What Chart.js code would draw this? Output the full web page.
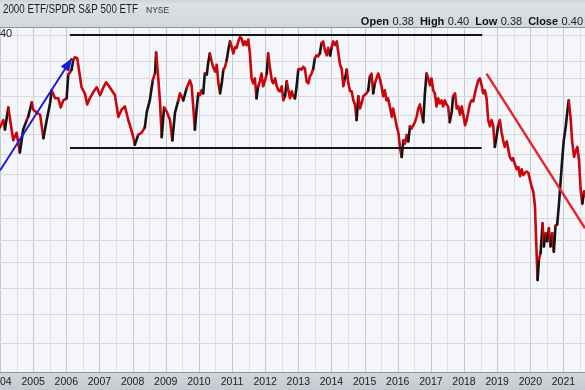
<!DOCTYPE html>
<html lang="en">
<head>
<meta charset="UTF-8" />
<title>Russell 2000 ETF / SPDR S&P 500 ETF</title>
<script src="https://cdn.jsdelivr.net/npm/chart.js"></script>
<style>
  html, body { margin: 0; padding: 0; background: #d5d8dd; overflow: hidden; }
  #wrap { width: 585px; height: 390px; }
</style>
</head>
<body>
<div id="wrap"><canvas id="ratioChart" width="585" height="390"></canvas></div>
<script>
  // x tick labels (one per calendar year)
  const years = [2004, 2005, 2006, 2007, 2008, 2009, 2010, 2011, 2012, 2013,
    2014, 2015, 2016, 2017, 2018, 2019, 2020, 2021, 2022];

  // ratio line, date in decimal years
  const dates = [
    2004.00, 2004.10, 2004.15, 2004.25, 2004.35, 2004.40, 2004.50, 2004.60, 2004.70, 2004.81,
    2004.85, 2004.96, 2005.00, 2005.11, 2005.21, 2005.31, 2005.41, 2005.51, 2005.56, 2005.66,
    2005.76, 2005.83, 2005.91, 2006.01, 2006.06, 2006.11, 2006.16, 2006.21, 2006.26, 2006.33,
    2006.39, 2006.46, 2006.56, 2006.63, 2006.71, 2006.81, 2006.92, 2007.02, 2007.12, 2007.20,
    2007.27, 2007.37, 2007.47, 2007.57, 2007.67, 2007.77, 2007.87, 2007.94, 2008.02, 2008.07,
    2008.17, 2008.27, 2008.37, 2008.43, 2008.52, 2008.61, 2008.68, 2008.71, 2008.78, 2008.83,
    2008.88, 2008.95, 2009.03, 2009.13, 2009.20, 2009.28, 2009.38, 2009.43, 2009.53, 2009.63,
    2009.73, 2009.78, 2009.83, 2009.88, 2009.93, 2009.98, 2010.03, 2010.08, 2010.13, 2010.18,
    2010.24, 2010.28, 2010.33, 2010.39, 2010.43, 2010.49, 2010.54, 2010.59, 2010.64, 2010.69,
    2010.74, 2010.79, 2010.84, 2010.89, 2010.94, 2010.99, 2011.04, 2011.09, 2011.14, 2011.19,
    2011.24, 2011.29, 2011.34, 2011.39, 2011.44, 2011.49, 2011.54, 2011.59, 2011.64, 2011.69,
    2011.74, 2011.79, 2011.84, 2011.89, 2011.94, 2011.99, 2012.05, 2012.09, 2012.14, 2012.20,
    2012.24, 2012.30, 2012.35, 2012.40, 2012.45, 2012.50, 2012.55, 2012.60, 2012.65, 2012.70,
    2012.75, 2012.80, 2012.85, 2012.90, 2012.95, 2013.00, 2013.05, 2013.10, 2013.15, 2013.20,
    2013.25, 2013.30, 2013.35, 2013.40, 2013.45, 2013.50, 2013.55, 2013.60, 2013.65, 2013.70,
    2013.75, 2013.80, 2013.86, 2013.90, 2013.96, 2014.01, 2014.05, 2014.11, 2014.16, 2014.21,
    2014.26, 2014.31, 2014.36, 2014.41, 2014.46, 2014.51, 2014.56, 2014.61, 2014.66, 2014.71,
    2014.76, 2014.81, 2014.86, 2014.91, 2014.96, 2015.06, 2015.11, 2015.16, 2015.21, 2015.26,
    2015.31, 2015.36, 2015.41, 2015.46, 2015.51, 2015.56, 2015.61, 2015.66, 2015.71, 2015.76,
    2015.82, 2015.86, 2015.92, 2015.97, 2016.02, 2016.07, 2016.12, 2016.17, 2016.22, 2016.27,
    2016.32, 2016.37, 2016.42, 2016.47, 2016.52, 2016.57, 2016.62, 2016.67, 2016.72, 2016.77,
    2016.82, 2016.87, 2016.92, 2016.97, 2017.02, 2017.07, 2017.12, 2017.17, 2017.22, 2017.27,
    2017.32, 2017.37, 2017.42, 2017.47, 2017.52, 2017.57, 2017.63, 2017.67, 2017.73, 2017.78,
    2017.83, 2017.88, 2017.93, 2017.98, 2018.03, 2018.08, 2018.13, 2018.18, 2018.23, 2018.28,
    2018.33, 2018.38, 2018.43, 2018.48, 2018.53, 2018.58, 2018.63, 2018.68, 2018.73, 2018.78,
    2018.83, 2018.88, 2018.93, 2018.98, 2019.03, 2019.08, 2019.13, 2019.18, 2019.23, 2019.29,
    2019.33, 2019.38, 2019.44, 2019.48, 2019.54, 2019.59, 2019.64, 2019.69, 2019.74, 2019.79,
    2019.84, 2019.89, 2019.94, 2019.99, 2020.04, 2020.09, 2020.14, 2020.19, 2020.22, 2020.26,
    2020.31, 2020.37, 2020.41, 2020.46, 2020.51, 2020.56, 2020.61, 2020.66, 2020.71, 2020.76,
    2020.81, 2020.86, 2020.91, 2020.96, 2021.01, 2021.07, 2021.11, 2021.16, 2021.22, 2021.26,
    2021.32, 2021.37, 2021.42, 2021.47, 2021.52, 2021.57, 2021.62, 2021.65
  ];
  const ratio = [
    0.546, 0.553, 0.544, 0.565, 0.544, 0.534, 0.541, 0.523, 0.544, 0.553,
    0.556, 0.570, 0.563, 0.560, 0.558, 0.536, 0.553, 0.569, 0.582, 0.574,
    0.574, 0.565, 0.572, 0.574, 0.598, 0.600, 0.603, 0.613, 0.616, 0.615,
    0.601, 0.585, 0.579, 0.568, 0.574, 0.580, 0.585, 0.577, 0.585, 0.590,
    0.587, 0.582, 0.577, 0.556, 0.563, 0.566, 0.553, 0.546, 0.537, 0.530,
    0.539, 0.541, 0.546, 0.561, 0.572, 0.592, 0.600, 0.621, 0.592, 0.569,
    0.537, 0.565, 0.561, 0.553, 0.534, 0.560, 0.572, 0.579, 0.572, 0.584,
    0.592, 0.587, 0.566, 0.544, 0.563, 0.579, 0.577, 0.582, 0.579, 0.599,
    0.598, 0.610, 0.620, 0.611, 0.606, 0.601, 0.608, 0.589, 0.579, 0.589,
    0.603, 0.606, 0.613, 0.624, 0.633, 0.627, 0.620, 0.627, 0.626, 0.633,
    0.638, 0.636, 0.629, 0.633, 0.629, 0.635, 0.620, 0.594, 0.589, 0.594,
    0.574, 0.586, 0.591, 0.599, 0.586, 0.591, 0.599, 0.620, 0.606, 0.592,
    0.589, 0.594, 0.586, 0.582, 0.581, 0.586, 0.572, 0.576, 0.591, 0.582,
    0.574, 0.581, 0.576, 0.574, 0.586, 0.603, 0.604, 0.603, 0.606, 0.604,
    0.591, 0.589, 0.596, 0.599, 0.604, 0.615, 0.618, 0.617, 0.620, 0.631,
    0.633, 0.624, 0.618, 0.626, 0.618, 0.627, 0.633, 0.629, 0.633, 0.620,
    0.608, 0.604, 0.586, 0.594, 0.603, 0.589, 0.581, 0.581, 0.572, 0.568,
    0.553, 0.576, 0.564, 0.569, 0.576, 0.579, 0.582, 0.596, 0.599, 0.579,
    0.589, 0.594, 0.599, 0.594, 0.586, 0.576, 0.582, 0.572, 0.574, 0.566,
    0.556, 0.564, 0.555, 0.547, 0.541, 0.527, 0.519, 0.534, 0.531, 0.539,
    0.533, 0.547, 0.545, 0.548, 0.551, 0.556, 0.564, 0.568, 0.559, 0.551,
    0.579, 0.599, 0.594, 0.587, 0.594, 0.582, 0.579, 0.566, 0.574, 0.569,
    0.572, 0.566, 0.572, 0.568, 0.566, 0.551, 0.561, 0.576, 0.579, 0.564,
    0.566, 0.558, 0.566, 0.558, 0.548, 0.553, 0.561, 0.569, 0.572, 0.571,
    0.579, 0.586, 0.592, 0.594, 0.587, 0.579, 0.582, 0.574, 0.553, 0.547,
    0.553, 0.548, 0.528, 0.537, 0.548, 0.553, 0.542, 0.534, 0.528, 0.533,
    0.527, 0.519, 0.516, 0.518, 0.512, 0.508, 0.510, 0.502, 0.508, 0.503,
    0.505, 0.506, 0.505, 0.499, 0.493, 0.489, 0.477, 0.440, 0.420, 0.435,
    0.440, 0.463, 0.445, 0.455, 0.449, 0.459, 0.445, 0.455, 0.441, 0.461,
    0.462, 0.477, 0.496, 0.516, 0.534, 0.547, 0.559, 0.572, 0.553, 0.534,
    0.519, 0.524, 0.528, 0.516, 0.490, 0.479, 0.489, 0.485
  ];

  // horizontal grid levels of the log price axis
  const gridRatio = [0.377, 0.396, 0.414, 0.433, 0.450, 0.467, 0.486, 0.504,
    0.522, 0.540, 0.558, 0.576, 0.594, 0.612, 0.640];

  // drawn annotations: [start, end] as [date, ratio]
  const rangeTop = [[2006.11, 0.640], [2018.55, 0.640]];
  const rangeBottom = [[2006.11, 0.527], [2018.53, 0.527]];
  const blueArrow = [[2004.00, 0.507], [2006.17, 0.615]];
  const redTrend = [[2018.68, 0.599], [2021.65, 0.459]];

  const quote = [["Open", "0.38"], ["High", "0.40"], ["Low", "0.38"], ["Close", "0.40"]];

  const FONT = '"Liberation Sans", Arial, sans-serif';
  const RED = "#c8060b";
  const BLACK = "#141414";
  const UP_STEP = 0.009; // only the sharp weekly gains show up dark

  const frame = {
    id: "frame",
    beforeDraw(chart) {
      const { ctx, chartArea: ca, scales } = chart;
      const xs = scales.x, ys = scales.y;
      const W = chart.width, H = chart.height;
      ctx.save();

      // header band
      let g = ctx.createLinearGradient(0, 0, 0, ca.top);
      g.addColorStop(0, "#d0d3d8");
      g.addColorStop(0.15, "#dcdfe3");
      g.addColorStop(1, "#d3d6db");
      ctx.fillStyle = g;
      ctx.fillRect(0, 0, W, ca.top);

      // plot background
      ctx.fillStyle = "#f5f6fa";
      ctx.fillRect(ca.left, ca.top, ca.right - ca.left, ca.bottom - ca.top);

      // date band
      g = ctx.createLinearGradient(0, ca.bottom, 0, H);
      g.addColorStop(0, "#d3d6db");
      g.addColorStop(1, "#c6c9cf");
      ctx.fillStyle = g;
      ctx.fillRect(0, ca.bottom, W, H - ca.bottom);

      // vertical grid, every half year
      ctx.lineWidth = 1;
      for (let t = 2004; t <= 2022; t += 0.5) {
        const px = Math.round(xs.getPixelForValue(t)) + 0.5;
        ctx.strokeStyle = Number.isInteger(t) ? "#c5c8ce" : "#dcdfe4";
        ctx.beginPath();
        ctx.moveTo(px, ca.top);
        ctx.lineTo(px, ca.bottom);
        ctx.stroke();
      }
      // horizontal grid
      ctx.strokeStyle = "#d6d9de";
      gridRatio.forEach((v) => {
        const py = Math.round(ys.getPixelForValue(v)) + 0.5;
        ctx.beginPath();
        ctx.moveTo(ca.left, py);
        ctx.lineTo(ca.right, py);
        ctx.stroke();
      });

      // frame lines
      ctx.strokeStyle = "#8f939a";
      ctx.beginPath();
      ctx.moveTo(0, ca.top - 0.5);
      ctx.lineTo(W, ca.top - 0.5);
      ctx.moveTo(0, ca.bottom + 0.5);
      ctx.lineTo(W, ca.bottom + 0.5);
      ctx.stroke();

      // title
      ctx.fillStyle = "#1c1c1c";
      ctx.textBaseline = "middle";
      ctx.textAlign = "left";
      ctx.font = "12px " + FONT;
      ctx.fillText("2000 ETF/SPDR S&P 500 ETF", 3, 9.5, 135);
      ctx.font = "8.5px " + FONT;
      ctx.fillStyle = "#333";
      ctx.fillText("NYSE", 146, 10.5, 26);

      // quote line, laid out right to left
      let x = 583;
      for (let i = quote.length - 1; i >= 0; i--) {
        ctx.font = "11px " + FONT;
        ctx.fillStyle = "#222";
        const vw = ctx.measureText(quote[i][1]).width;
        x -= vw;
        ctx.fillText(quote[i][1], x, 21.5);
        x -= 3.5;
        ctx.font = "bold 11px " + FONT;
        ctx.fillStyle = "#111";
        const lw = ctx.measureText(quote[i][0]).width;
        x -= lw;
        ctx.fillText(quote[i][0], x, 21.5);
        x -= 6;
      }

      // top price label (rest of it is cut off)
      ctx.font = "11px " + FONT;
      ctx.fillStyle = "#222";
      ctx.fillText("40", 0, ys.getPixelForValue(0.640) - 1.5);

      // year labels
      ctx.textAlign = "center";
      ctx.font = "10.5px " + FONT;
      ctx.fillStyle = "#202020";
      years.forEach((yr) => {
        ctx.fillText(String(yr), xs.getPixelForValue(yr), 382);
      });
      ctx.restore();
    },
    afterDatasetsDraw(chart) {
      const { ctx, chartArea: ca, scales } = chart;
      const xs = scales.x, ys = scales.y;
      const P = (p) => [xs.getPixelForValue(p[0]), ys.getPixelForValue(p[1])];
      ctx.save();
      ctx.beginPath();
      ctx.rect(ca.left, ca.top, ca.right - ca.left, ca.bottom - ca.top);
      ctx.clip();
      ctx.lineCap = "butt";

      const seg = (pts, color, w) => {
        const a = P(pts[0]), b = P(pts[1]);
        ctx.strokeStyle = color;
        ctx.lineWidth = w;
        ctx.beginPath();
        ctx.moveTo(a[0], a[1]);
        ctx.lineTo(b[0], b[1]);
        ctx.stroke();
        return [a, b];
      };
      seg(rangeTop, "#151515", 2);
      seg(rangeBottom, "#151515", 2);
      seg(redTrend, "#e2272c", 2.4);

      // blue arrow with head at the 2006 top
      const [a, b] = seg(blueArrow, "#1a1ad6", 2);
      const ang = Math.atan2(b[1] - a[1], b[0] - a[0]);
      const len = 13, half = 5;
      const bx = b[0] - len * Math.cos(ang), by = b[1] - len * Math.sin(ang);
      ctx.fillStyle = "#1a1ad6";
      ctx.beginPath();
      ctx.moveTo(b[0], b[1]);
      ctx.lineTo(bx + half * Math.sin(ang), by - half * Math.cos(ang));
      ctx.lineTo(bx - half * Math.sin(ang), by + half * Math.cos(ang));
      ctx.closePath();
      ctx.fill();
      ctx.restore();
    }
  };

  new Chart(document.getElementById("ratioChart"), {
    type: "line",
    data: {
      datasets: [{
        data: dates.map((d, i) => ({ x: d, y: ratio[i] })),
        borderWidth: 2.6,
        pointRadius: 0,
        tension: 0,
        borderJoinStyle: "round",
        borderCapStyle: "round",
        borderColor: RED,
        segment: {
          borderColor: (c) => (c.p1.parsed.y - c.p0.parsed.y > UP_STEP ? BLACK : RED)
        }
      }]
    },
    options: {
      responsive: false,
      animation: false,
      layout: { padding: { top: 28, bottom: 18, left: 0, right: 0 } },
      scales: {
        x: { type: "linear", min: 2004.0, max: 2021.65, display: false },
        y: { type: "logarithmic", min: 0.3585, max: 0.6478, display: false }
      },
      plugins: { legend: { display: false }, tooltip: { enabled: false } }
    },
    plugins: [frame]
  });
</script>
</body>
</html>
